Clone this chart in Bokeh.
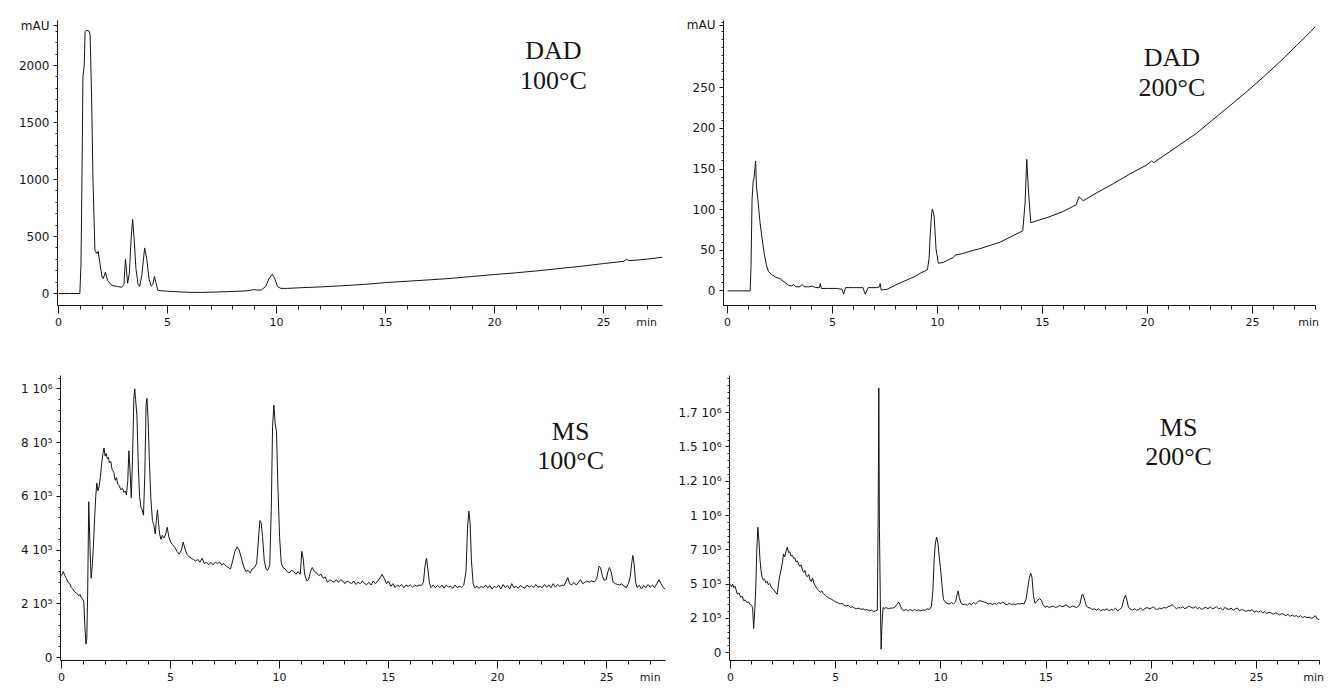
from bokeh.plotting import figure
from bokeh.layouts import column, row
from bokeh.models import FixedTicker, LinearAxis, Label, CustomLabelingPolicy
from bokeh.embed import file_html
from bokeh.resources import INLINE

# ---------------- data (time in min, signal) ----------------
# DAD 100 °C  (mAU)
dad100 = [(0, 0), (0.5, 0), (0.98, 0), (1.03, 250), (1.07, 900), (1.12, 1900), (1.18, 2000),
          (1.22, 2300), (1.3, 2310), (1.41, 2300), (1.45, 2270), (1.52, 1700), (1.58, 1000),
          (1.67, 380), (1.76, 350), (1.82, 370), (1.9, 263), (2.0, 143), (2.05, 130), (2.15, 187),
          (2.25, 114), (2.45, 70), (2.7, 62), (2.9, 55), (3.0, 80), (3.07, 300), (3.12, 200),
          (3.17, 90), (3.25, 180), (3.33, 480), (3.4, 650), (3.47, 480), (3.55, 220), (3.65, 80),
          (3.72, 60), (3.82, 160), (3.95, 400), (4.05, 300), (4.15, 130), (4.25, 65), (4.33, 80),
          (4.4, 150), (4.47, 95), (4.55, 30), (4.7, 25), (5.0, 20), (5.5, 15), (6.0, 10), (6.5, 10),
          (7.0, 12), (7.5, 15), (8.0, 18), (8.5, 22), (8.8, 28), (8.95, 35), (9.1, 30), (9.3, 32),
          (9.5, 60), (9.65, 130), (9.8, 170), (9.9, 140), (10.05, 60), (10.2, 45), (10.5, 45),
          (11, 50), (12, 58), (13, 68), (14, 80), (15, 96), (16, 108), (17, 120), (18, 133),
          (19, 150), (20, 167), (21, 182), (22, 200), (23, 220), (24, 240), (25, 263), (25.9, 282),
          (26.05, 300), (26.15, 290), (26.3, 290), (26.6, 295), (27, 302), (27.7, 318)]

# DAD 200 °C  (mAU)
dad200 = [(0, 0), (0.5, 0), (1.08, 0), (1.12, 30), (1.17, 112), (1.22, 134), (1.27, 140), (1.31, 152),
          (1.34, 160), (1.38, 128), (1.45, 112), (1.55, 84), (1.65, 64), (1.75, 46), (1.85, 32),
          (1.95, 24), (2.1, 20), (2.3, 17), (2.5, 15), (2.7, 11), (2.9, 7), (3.05, 6), (3.15, 8),
          (3.25, 5), (3.45, 5), (3.55, 8), (3.65, 5), (3.9, 5), (4.03, 6), (4.2, 4), (4.38, 4),
          (4.42, 9), (4.47, 3), (4.8, 3), (5.2, 3), (5.45, 2), (5.53, -4), (5.62, 4), (6.0, 4),
          (6.45, 4), (6.56, -4), (6.7, 4), (7.1, 4), (7.24, 5), (7.27, 9), (7.32, 1), (7.6, 2),
          (8.07, 8), (8.5, 13), (8.86, 17), (9.2, 22), (9.52, 26), (9.6, 40), (9.65, 68), (9.72, 95),
          (9.76, 101), (9.84, 92), (9.93, 52), (10.04, 34), (10.27, 35), (10.5, 38), (10.75, 41),
          (10.84, 44), (11.2, 46), (11.71, 50), (12.03, 52), (12.5, 56), (12.98, 60), (13.6, 68),
          (14.06, 74), (14.17, 108), (14.25, 162), (14.33, 124), (14.44, 84), (14.8, 87), (15.2, 90),
          (16.0, 98), (16.6, 106), (16.74, 116), (16.94, 111), (17.6, 121), (18.37, 132),
          (19.16, 144), (19.96, 155), (20.2, 160), (20.3, 158), (20.75, 166), (21.54, 180),
          (22.33, 194), (23.12, 211), (23.92, 228), (24.71, 245), (25.5, 263), (26.3, 282),
          (27.09, 302), (27.8, 320), (28.0, 326)]

# MS 100 °C  (counts, in units of 1e5)
ms100 = [(0.0, 3.05), (0.08, 3.2), (0.15, 3.05), (0.22, 2.95), (0.3, 2.8), (0.38, 2.75), (0.45, 2.6),
         (0.52, 2.55), (0.6, 2.45), (0.68, 2.4), (0.75, 2.35), (0.8, 2.3), (0.85, 2.35), (0.9, 2.25),
         (0.95, 2.2), (1.02, 2.1), (1.07, 1.2), (1.12, 0.5), (1.16, 0.7), (1.2, 2.4), (1.25, 5.8),
         (1.29, 4.6), (1.33, 3.5), (1.36, 2.95), (1.41, 3.4), (1.46, 4.1), (1.52, 5.2), (1.57, 6.0),
         (1.62, 6.5), (1.67, 6.2), (1.72, 6.35), (1.78, 6.7), (1.84, 7.2), (1.9, 7.6), (1.95, 7.8),
         (2.0, 7.5), (2.05, 7.6), (2.1, 7.4), (2.15, 7.45), (2.2, 7.25), (2.26, 7.3), (2.32, 7.0),
         (2.4, 6.9), (2.46, 6.6), (2.52, 6.7), (2.58, 6.45), (2.65, 6.4), (2.72, 6.25), (2.8, 6.3),
         (2.86, 6.15), (2.92, 6.2), (2.98, 6.05), (3.04, 6.6), (3.09, 7.7), (3.14, 7.0), (3.2, 5.95),
         (3.26, 7.5), (3.32, 9.7), (3.36, 10.0), (3.4, 9.6), (3.46, 9.0), (3.52, 7.2), (3.58, 6.0),
         (3.64, 5.6), (3.7, 5.5), (3.76, 5.3), (3.82, 6.8), (3.88, 9.4), (3.92, 9.65), (3.97, 8.9),
         (4.03, 7.3), (4.1, 5.9), (4.17, 5.1), (4.23, 4.95), (4.3, 4.6), (4.35, 5.1), (4.4, 5.5),
         (4.45, 5.0), (4.5, 4.6), (4.56, 4.4), (4.62, 4.55), (4.7, 4.45), (4.78, 4.6), (4.85, 4.85),
         (4.92, 4.5), (5.0, 4.3), (5.1, 4.2), (5.2, 4.1), (5.3, 3.95), (5.4, 3.85), (5.5, 4.0),
         (5.58, 4.3), (5.66, 4.05), (5.75, 3.85), (5.85, 3.75), (5.95, 3.7), (6.05, 3.65), (6.15, 3.6),
         (6.25, 3.65), (6.35, 3.55), (6.45, 3.7), (6.55, 3.5), (6.65, 3.55), (6.75, 3.45), (6.85, 3.55),
         (6.95, 3.45), (7.05, 3.55), (7.15, 3.5), (7.25, 3.55), (7.35, 3.45), (7.45, 3.5), (7.55, 3.4),
         (7.65, 3.35), (7.75, 3.3), (7.85, 3.6), (7.95, 3.95), (8.05, 4.12), (8.15, 4.0), (8.25, 3.7),
         (8.35, 3.4), (8.45, 3.2), (8.55, 3.25), (8.65, 3.15), (8.75, 3.3), (8.85, 3.35), (8.95, 3.5),
         (9.05, 4.6), (9.1, 5.1), (9.16, 5.0), (9.22, 4.5), (9.3, 3.6), (9.38, 3.3), (9.46, 3.25),
         (9.55, 3.45), (9.62, 5.5), (9.68, 8.6), (9.74, 9.4), (9.8, 8.7), (9.86, 8.4), (9.92, 6.5),
         (10.0, 4.5), (10.08, 3.5), (10.16, 3.35), (10.25, 3.3), (10.35, 3.2), (10.45, 3.15),
         (10.55, 3.25), (10.65, 3.2), (10.75, 3.1), (10.85, 3.2), (10.95, 3.1), (11.02, 3.95),
         (11.08, 3.7), (11.15, 3.1), (11.25, 2.85), (11.33, 2.9), (11.42, 3.2), (11.5, 3.35),
         (11.6, 3.2), (11.7, 3.15), (11.8, 3.05), (11.9, 3.1), (12.0, 2.95), (12.1, 3.0), (12.2, 2.8),
         (12.3, 2.9), (12.4, 2.85), (12.5, 2.8), (12.6, 2.9), (12.7, 2.8), (12.8, 2.9), (12.9, 2.85),
         (13.0, 2.75), (13.1, 2.85), (13.2, 2.8), (13.3, 2.75), (13.4, 2.85), (13.5, 2.72), (13.6, 2.8),
         (13.7, 2.75), (13.8, 2.85), (13.9, 2.75), (14.0, 2.72), (14.1, 2.8), (14.2, 2.7), (14.3, 2.85),
         (14.4, 2.75), (14.5, 2.85), (14.6, 2.95), (14.7, 3.1), (14.8, 2.95), (14.9, 2.75), (15.0, 2.85),
         (15.1, 2.65), (15.2, 2.75), (15.3, 2.6), (15.4, 2.7), (15.5, 2.65), (15.6, 2.72), (15.7, 2.6),
         (15.8, 2.7), (15.9, 2.65), (16.0, 2.7), (16.1, 2.62), (16.2, 2.7), (16.3, 2.65), (16.4, 2.7),
         (16.5, 2.68), (16.6, 2.8), (16.67, 3.4), (16.74, 3.7), (16.8, 3.3), (16.88, 2.75), (16.95, 2.6),
         (17.05, 2.7), (17.15, 2.6), (17.25, 2.68), (17.35, 2.6), (17.45, 2.7), (17.55, 2.58),
         (17.65, 2.7), (17.75, 2.62), (17.85, 2.65), (17.95, 2.58), (18.05, 2.7), (18.15, 2.6),
         (18.25, 2.65), (18.35, 2.62), (18.45, 2.7), (18.55, 3.2), (18.62, 4.8), (18.68, 5.45),
         (18.74, 5.0), (18.8, 3.6), (18.88, 2.75), (18.95, 2.6), (19.05, 2.65), (19.15, 2.58),
         (19.25, 2.65), (19.35, 2.6), (19.45, 2.7), (19.55, 2.6), (19.65, 2.68), (19.75, 2.55),
         (19.85, 2.65), (19.95, 2.6), (20.05, 2.7), (20.15, 2.55), (20.25, 2.72), (20.35, 2.6),
         (20.45, 2.68), (20.55, 2.55), (20.65, 2.75), (20.75, 2.6), (20.85, 2.65), (20.95, 2.58),
         (21.05, 2.68), (21.15, 2.62), (21.25, 2.58), (21.35, 2.7), (21.45, 2.62), (21.55, 2.68),
         (21.65, 2.6), (21.75, 2.72), (21.85, 2.62), (21.95, 2.65), (22.05, 2.6), (22.15, 2.72),
         (22.25, 2.62), (22.35, 2.7), (22.45, 2.6), (22.55, 2.75), (22.65, 2.62), (22.75, 2.72),
         (22.85, 2.65), (22.95, 2.7), (23.05, 2.68), (23.15, 2.85), (23.22, 2.98), (23.3, 2.75),
         (23.4, 2.7), (23.5, 2.8), (23.6, 2.7), (23.7, 2.78), (23.8, 2.9), (23.9, 2.75), (24.0, 2.8),
         (24.1, 2.85), (24.2, 2.8), (24.3, 2.85), (24.45, 2.82), (24.55, 2.95), (24.65, 3.4),
         (24.72, 3.35), (24.8, 3.05), (24.88, 2.88), (24.98, 2.9), (25.06, 3.2), (25.13, 3.35),
         (25.2, 3.2), (25.3, 2.8), (25.4, 2.75), (25.5, 2.72), (25.6, 2.7), (25.7, 2.75), (25.8, 2.65),
         (25.9, 2.6), (26.0, 2.75), (26.08, 3.0), (26.15, 3.5), (26.2, 3.8), (26.26, 3.5), (26.33, 2.8),
         (26.4, 2.6), (26.5, 2.7), (26.6, 2.55), (26.7, 2.68), (26.8, 2.6), (26.9, 2.72), (27.0, 2.62),
         (27.1, 2.7), (27.2, 2.6), (27.3, 2.75), (27.4, 2.9), (27.5, 2.75), (27.6, 2.6), (27.7, 2.55)]

# MS 200 °C  (counts, in units of 1e5)
ms200 = [(0.0, 4.98), (0.05, 4.8), (0.1, 5.0), (0.16, 4.74), (0.22, 4.85), (0.28, 4.5), (0.32, 4.26),
         (0.4, 4.35), (0.48, 4.05), (0.56, 4.1), (0.63, 3.79), (0.7, 3.85), (0.78, 3.65), (0.86, 3.7),
         (0.94, 3.5), (1.0, 3.45), (1.05, 3.3), (1.1, 1.76), (1.15, 3.0), (1.2, 4.7), (1.25, 7.5),
         (1.3, 9.14), (1.35, 8.2), (1.4, 6.8), (1.45, 6.0), (1.5, 5.5), (1.56, 5.3), (1.62, 5.35),
         (1.68, 5.1), (1.74, 5.2), (1.8, 4.95), (1.86, 5.05), (1.92, 4.85), (1.98, 4.7), (2.04, 4.6),
         (2.1, 4.5), (2.16, 4.35), (2.22, 4.26), (2.28, 5.0), (2.34, 5.6), (2.4, 6.0), (2.46, 6.5),
         (2.52, 7.2), (2.58, 7.0), (2.64, 7.4), (2.7, 7.7), (2.76, 7.3), (2.82, 7.35), (2.88, 7.05),
         (2.94, 7.1), (3.0, 6.88), (3.06, 6.9), (3.12, 6.6), (3.18, 6.7), (3.24, 6.45), (3.3, 6.3),
         (3.36, 6.4), (3.42, 6.0), (3.48, 5.85), (3.54, 6.0), (3.6, 5.6), (3.66, 5.55), (3.72, 5.7),
         (3.78, 5.3), (3.84, 5.2), (3.9, 5.45), (3.96, 5.1), (4.02, 4.9), (4.1, 4.7), (4.18, 4.55),
         (4.26, 4.4), (4.34, 4.5), (4.42, 4.3), (4.5, 4.2), (4.6, 4.05), (4.7, 3.95), (4.8, 3.9),
         (4.9, 3.8), (5.0, 3.7), (5.1, 3.65), (5.2, 3.55), (5.3, 3.6), (5.4, 3.45), (5.5, 3.4),
         (5.6, 3.45), (5.7, 3.3), (5.8, 3.35), (5.9, 3.25), (6.0, 3.2), (6.1, 3.25), (6.2, 3.15),
         (6.3, 3.2), (6.4, 3.1), (6.5, 3.15), (6.6, 3.05), (6.7, 3.1), (6.8, 3.0), (6.9, 3.05),
         (6.98, 3.1), (7.02, 10.0), (7.05, 19.3), (7.08, 9.0), (7.12, 4.0), (7.16, 0.25), (7.2, 2.0),
         (7.25, 3.3), (7.32, 3.2), (7.4, 3.3), (7.5, 3.2), (7.6, 3.25), (7.7, 3.25), (7.8, 3.3),
         (7.9, 3.5), (8.0, 3.7), (8.08, 3.4), (8.16, 3.15), (8.24, 3.07), (8.35, 3.15), (8.45, 3.05),
         (8.55, 3.15), (8.65, 3.05), (8.75, 3.15), (8.85, 3.07), (8.95, 3.12), (9.05, 3.05),
         (9.15, 3.12), (9.25, 3.1), (9.35, 3.2), (9.45, 3.15), (9.55, 3.35), (9.62, 4.5), (9.68, 6.8),
         (9.74, 8.0), (9.8, 8.43), (9.86, 8.0), (9.92, 7.0), (9.98, 6.2), (10.05, 5.0), (10.12, 3.9),
         (10.2, 3.7), (10.3, 3.6), (10.4, 3.55), (10.5, 3.65), (10.6, 3.55), (10.7, 3.7), (10.78, 4.3),
         (10.82, 4.5), (10.88, 4.0), (10.96, 3.6), (11.05, 3.5), (11.15, 3.55), (11.25, 3.45),
         (11.35, 3.6), (11.45, 3.5), (11.55, 3.65), (11.65, 3.55), (11.75, 3.7), (11.85, 3.8),
         (11.95, 3.75), (12.05, 3.7), (12.15, 3.65), (12.25, 3.55), (12.35, 3.6), (12.45, 3.5),
         (12.55, 3.6), (12.65, 3.52), (12.75, 3.65), (12.85, 3.58), (12.95, 3.7), (13.05, 3.55),
         (13.15, 3.5), (13.25, 3.6), (13.35, 3.52), (13.45, 3.55), (13.55, 3.5), (13.65, 3.58),
         (13.75, 3.55), (13.85, 3.6), (13.95, 3.55), (14.05, 3.9), (14.12, 4.6), (14.2, 5.4),
         (14.27, 5.8), (14.33, 5.5), (14.4, 4.2), (14.47, 3.6), (14.55, 3.7), (14.62, 3.85),
         (14.7, 3.95), (14.78, 3.8), (14.86, 3.5), (14.95, 3.3), (15.05, 3.4), (15.15, 3.3),
         (15.25, 3.35), (15.35, 3.4), (15.45, 3.3), (15.55, 3.35), (15.65, 3.45), (15.75, 3.35),
         (15.85, 3.4), (15.95, 3.5), (16.05, 3.35), (16.15, 3.3), (16.25, 3.4), (16.35, 3.35),
         (16.45, 3.3), (16.55, 3.4), (16.62, 3.6), (16.7, 4.2), (16.76, 4.25), (16.84, 3.8),
         (16.92, 3.4), (17.0, 3.3), (17.1, 3.25), (17.2, 3.15), (17.3, 3.2), (17.4, 3.1), (17.5, 3.2),
         (17.6, 3.05), (17.7, 3.15), (17.8, 3.1), (17.9, 3.2), (18.0, 3.05), (18.1, 3.15), (18.2, 3.1),
         (18.3, 3.25), (18.4, 3.05), (18.5, 3.15), (18.6, 3.3), (18.7, 3.9), (18.78, 4.2), (18.85, 3.8),
         (18.92, 3.3), (19.0, 3.2), (19.1, 3.1), (19.2, 3.2), (19.3, 3.1), (19.4, 3.15), (19.5, 3.25),
         (19.6, 3.1), (19.7, 3.2), (19.8, 3.3), (19.9, 3.2), (20.0, 3.25), (20.1, 3.35), (20.2, 3.2),
         (20.3, 3.15), (20.4, 3.25), (20.5, 3.2), (20.6, 3.3), (20.7, 3.25), (20.8, 3.35), (20.9, 3.4),
         (21.0, 3.5), (21.1, 3.35), (21.2, 3.2), (21.3, 3.3), (21.4, 3.25), (21.5, 3.35), (21.6, 3.2),
         (21.7, 3.3), (21.8, 3.4), (21.9, 3.3), (22.0, 3.25), (22.1, 3.35), (22.2, 3.2), (22.3, 3.3),
         (22.4, 3.15), (22.5, 3.25), (22.6, 3.3), (22.7, 3.2), (22.8, 3.35), (22.9, 3.2), (23.0, 3.25),
         (23.1, 3.35), (23.2, 3.2), (23.3, 3.25), (23.4, 3.1), (23.5, 3.3), (23.6, 3.2), (23.7, 3.15),
         (23.8, 3.25), (23.9, 3.1), (24.0, 3.2), (24.1, 3.25), (24.2, 3.05), (24.3, 3.15), (24.4, 3.1),
         (24.5, 3.0), (24.6, 3.1), (24.7, 3.05), (24.8, 3.15), (24.9, 2.95), (25.0, 3.05), (25.1, 2.95),
         (25.2, 3.05), (25.3, 2.9), (25.4, 3.0), (25.5, 2.85), (25.6, 2.95), (25.7, 2.9), (25.8, 2.8),
         (25.9, 2.9), (26.0, 2.85), (26.1, 2.75), (26.2, 2.85), (26.3, 2.8), (26.4, 2.7), (26.5, 2.8),
         (26.6, 2.65), (26.7, 2.75), (26.8, 2.65), (26.9, 2.7), (27.0, 2.6), (27.1, 2.7), (27.2, 2.55),
         (27.3, 2.65), (27.4, 2.55), (27.5, 2.6), (27.6, 2.5), (27.7, 2.55), (27.8, 2.7), (27.9, 2.45),
         (28.0, 2.4)]

# tick labels
x_ticks = [0, 5, 10, 15, 20, 25]
dad100_yticks = [0, 500, 1000, 1500, 2000]
dad200_yticks = [0, 50, 100, 150, 200, 250]
ms100_yticks = [0, 2, 4, 6, 8, 10]
ms100_ylabels = ["0", "2 10⁵", "4 10⁵", "6 10⁵", "8 10⁵", "1 10⁶"]
ms200_yticks = [0, 2.5, 5, 7.5, 10, 12.5, 15, 17.5]
ms200_ylabels = ["0", "2 10⁵", "5 10⁵", "7 10⁵", "1 10⁶", "1.2 10⁶", "1.5 10⁶", "1.7 10⁶"]

INK = "#161616"
TICK_FONT = "DejaVu Sans"
SERIF = "Liberation Serif"


def frange(a, b, step):
    out, v = [], a
    while v <= b + 1e-9:
        out.append(round(v, 6))
        v += step
    return out


def make_panel(width, height, bl, br, bt, bb, xr, yr, yticks, ylabels, yminor, xmax,
               min_pos, mau_pos=None):
    p = figure(width=width, height=height, x_range=xr, y_range=yr,
               output_backend="svg", toolbar_location=None,
               min_border_left=bl, min_border_right=br,
               min_border_top=bt, min_border_bottom=bb)
    p.grid.visible = False
    p.outline_line_color = None
    p.background_fill_color = "white"
    p.border_fill_color = "white"

    # y axis (with the "mAU" unit written at its top tick)
    ticks = list(yticks)
    overrides = {}
    if ylabels is not None:
        overrides.update({t: l for t, l in zip(yticks, ylabels)})
    if mau_pos is not None:
        ticks.append(mau_pos)
        overrides[mau_pos] = "mAU"
    p.yaxis.ticker = FixedTicker(ticks=ticks, minor_ticks=frange(0, yr[1], yminor))
    p.yaxis.major_label_overrides = overrides

    # x axis: line and tick marks only (labels suppressed by the labeling policy)
    p.xaxis.ticker = FixedTicker(ticks=x_ticks, minor_ticks=frange(0, xmax, 1))
    p.xaxis.major_label_policy = CustomLabelingPolicy(code="return new Set()")
    p.xaxis.major_label_standoff = 0
    p.xaxis.major_label_text_font_size = "1px"

    for ax in (p.xaxis[0], p.yaxis[0]):
        ax.axis_line_color = INK
        ax.axis_line_width = 1
        ax.major_tick_line_color = INK
        ax.minor_tick_line_color = INK
        ax.major_tick_in = 0
        ax.minor_tick_in = 0
        ax.major_label_text_color = INK
    p.xaxis.major_tick_out = 8
    p.xaxis.minor_tick_out = 4
    p.yaxis.major_tick_out = 4
    p.yaxis.minor_tick_out = 2
    p.yaxis.major_label_standoff = 4
    p.yaxis.major_label_text_font = TICK_FONT
    p.yaxis.major_label_text_font_size = "12px"

    # x tick labels (plus the "min" unit) on a label-only axis below
    lab = LinearAxis(ticker=FixedTicker(ticks=x_ticks + [min_pos]),
                     major_label_overrides={min_pos: "min"},
                     axis_line_color=None, major_tick_line_color=None,
                     minor_tick_line_color=None, major_tick_out=0, minor_tick_out=0,
                     major_tick_in=0, minor_tick_in=0, major_label_standoff=-2,
                     major_label_text_font=TICK_FONT, major_label_text_font_size="11px",
                     major_label_text_color=INK)
    p.add_layout(lab, "below")
    return p


def add_text(p, x, y, text):
    p.add_layout(Label(x=x, y=y, text=text, text_font=SERIF, text_font_size="26px",
                       text_align="center", text_baseline="middle", text_color=INK))


def trace(p, data):
    t = [d[0] for d in data]
    v = [d[1] for d in data]
    p.line(t, v, line_color=INK, line_width=1)


# DAD 100
p1 = make_panel(670, 332, 57, 8, 20, 27, (-0.046, 27.7), (-105, 2395),
                dad100_yticks, None, 100, 27.7, 26.97, 2351)
trace(p1, dad100)
add_text(p1, 22.7, 2132, "DAD")
add_text(p1, 22.7, 1868, "100°C")

# DAD 200
p2 = make_panel(660, 332, 53, 15, 13, 27, (-0.19, 28.0), (-18, 333),
                dad200_yticks, None, 10, 28.0, 27.67, 327)
trace(p2, dad200)
add_text(p2, 21.16, 287, "DAD")
add_text(p2, 21.16, 251, "200°C")

# MS 100
p3 = make_panel(670, 358, 60, 5, 40, 30, (-0.046, 27.7), (-0.11, 10.5),
                ms100_yticks, ms100_ylabels, 0.4, 27.7, 27.0)
trace(p3, ms100)
add_text(p3, 23.35, 8.42, "MS")
add_text(p3, 23.35, 7.32, "100°C")

# MS 200
p4 = make_panel(660, 358, 59, 11, 43, 26, (-0.048, 28.0), (-0.57, 20.21),
                ms200_yticks, ms200_ylabels, 0.5, 28.0, 27.72)
trace(p4, ms200)
add_text(p4, 21.3, 16.43, "MS")
add_text(p4, 21.3, 14.29, "200°C")

layout = column(row(p1, p2), row(p3, p4))
open("out.html", "w").write(file_html(layout, INLINE))
